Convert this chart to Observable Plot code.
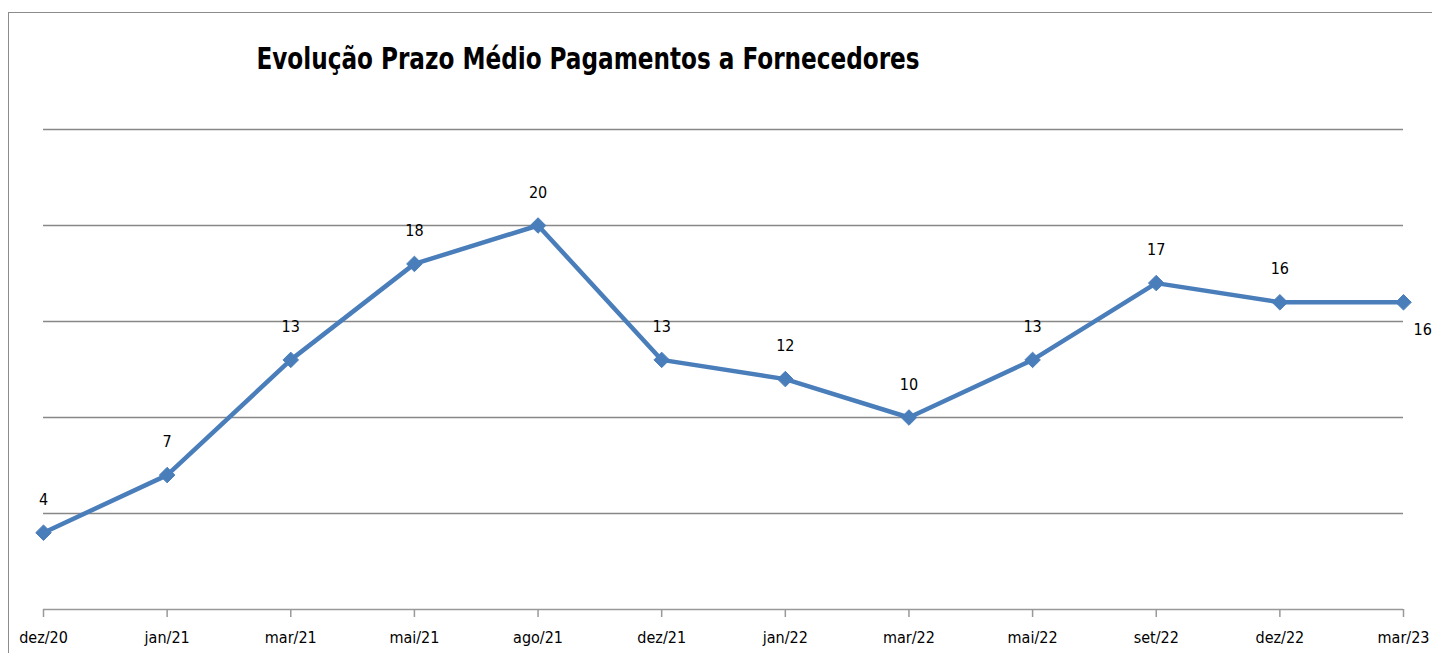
<!DOCTYPE html>
<html>
<head>
<meta charset="utf-8">
<script src="https://cdn.jsdelivr.net/npm/d3@7"></script>
<script src="https://cdn.jsdelivr.net/npm/@observablehq/plot@0.6"></script>
<style>
  html, body { margin: 0; padding: 0; background: #fff; overflow: hidden; }
  #wrap { position: relative; width: 1432px; height: 653px; }
  #frame { position: absolute; left: 8px; top: 12px; width: 1440px; height: 660px; border: 1.5px solid #8c8c8c; box-sizing: border-box; }
  #title { position: absolute; left: 0; width: 1176px; top: 40px; text-align: center;
    font-family: "DejaVu Sans Condensed", "DejaVu Sans", sans-serif; font-stretch: condensed;
    font-weight: bold; font-size: 31px; color: #000; white-space: nowrap;
    transform: scaleX(0.83); transform-origin: 588px 0; }
  #chart { position: absolute; left: 0; top: 0; }
</style>
</head>
<body>
<div id="wrap">
  <div id="frame"></div>
  <div id="chart"></div>
  <div id="title">Evolução Prazo Médio Pagamentos a Fornecedores</div>
</div>
<script>
const periods = ["dez/20","jan/21","mar/21","mai/21","ago/21","dez/21","jan/22","mar/22","mai/22","set/22","dez/22","mar/23"];
const values = [4, 7, 13, 18, 20, 13, 12, 10, 13, 17, 16, 16];
const gridValues = [5, 10, 15, 20, 25];

const data = periods.map((p, i) => ({period: p, value: values[i]}));
const lastIdx = data.length - 1;
const font = "'DejaVu Sans Condensed', 'DejaVu Sans', sans-serif";

const chart = Plot.plot({
  width: 1432,
  height: 653,
  marginLeft: 43,
  marginRight: 29,
  marginTop: 129,
  marginBottom: 44,
  style: {fontFamily: font, fontSize: "16px", color: "#000", background: "transparent", overflow: "visible"},
  x: {type: "point", domain: periods, padding: 0, round: false, label: null},
  y: {domain: [0, 25], axis: null},
  marks: [
    Plot.ruleY(gridValues, {stroke: "#888", strokeWidth: 1.5}),
    Plot.ruleY([0], {stroke: "#999", strokeWidth: 1.5}),
    Plot.axisX({tickSize: 8, tickPadding: 14, stroke: "#999", strokeWidth: 1.5, fill: "#000", fontSize: 16, fontFamily: font}),
    Plot.line(data, {x: "period", y: "value", stroke: "#4a7ebb", strokeWidth: 4.5}),
    Plot.dot(data, {x: "period", y: "value", symbol: "diamond2", r: 7, fill: "#4a7ebb", stroke: "#4a7ebb", strokeWidth: 1}),
    Plot.text(data.filter((d, i) => i !== lastIdx), {x: "period", y: "value", text: d => String(d.value), dy: -33, fontSize: 16, fill: "#000", fontFamily: font}),
    Plot.text(data.filter((d, i) => i === lastIdx), {x: "period", y: "value", text: d => String(d.value), dy: 28, dx: 10, textAnchor: "start", fontSize: 16, fill: "#000", fontFamily: font})
  ]
});
document.getElementById("chart").appendChild(chart);
</script>
</body>
</html>
